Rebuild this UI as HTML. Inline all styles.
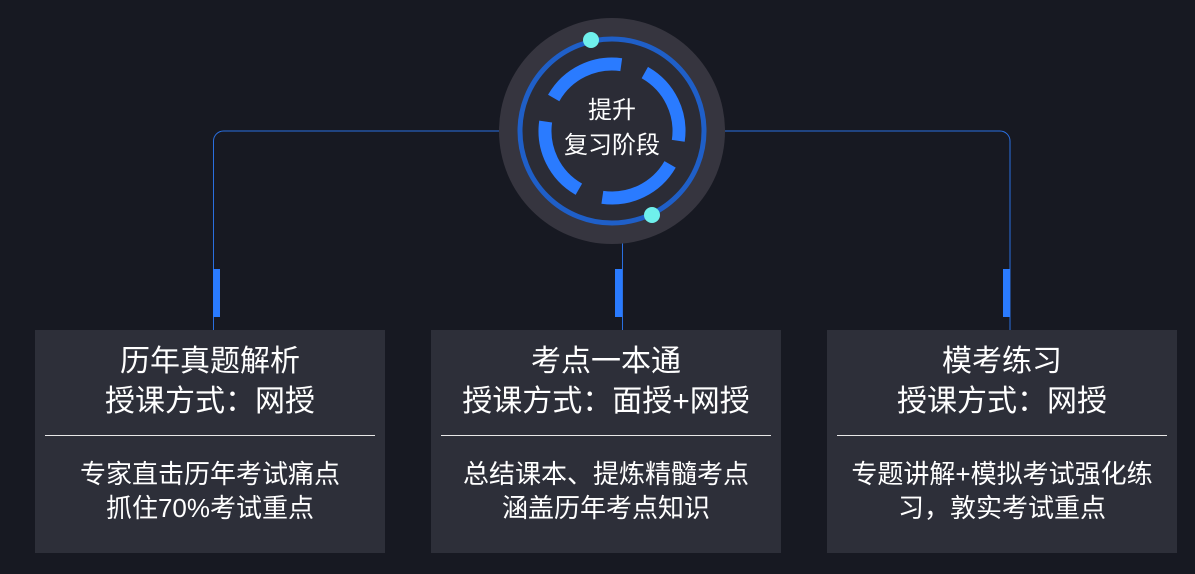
<!DOCTYPE html>
<html><head><meta charset="utf-8"><style>
body{margin:0;width:1195px;height:574px;background:#171922;position:relative;overflow:hidden;font-family:"Liberation Sans","Noto Sans CJK SC",sans-serif;color:#fff}
.box{position:absolute;top:330px;width:350px;height:223px;background:#2d2f39;text-align:center}
.t{position:absolute;top:12px;left:0;right:0;font-size:30px;line-height:40px}
.hr{position:absolute;top:105px;left:10px;right:10px;height:1px;background:#e8e8e8}
.d{position:absolute;top:127px;left:0;right:0;font-size:26px;line-height:34px}
.bar{position:absolute;top:269px;width:7px;height:48px;background:#2a7bff}
</style></head><body>
<svg width="1195" height="574" style="position:absolute;left:0;top:0">
<path d="M213.5 330 V141 a10 10 0 0 1 10 -10 H1000 a10 10 0 0 1 10 10 V330" fill="none" stroke="#2a6fe0" stroke-width="1"/>
<line x1="622.5" y1="240" x2="622.5" y2="330" stroke="#2a6fe0"/>
<circle cx="612" cy="131" r="113" fill="#36353f"/>
<circle cx="612" cy="131" r="92" fill="#2b2c36" stroke="#1f5fc8" stroke-width="5"/>
<circle cx="612" cy="131" r="67" fill="none" stroke="#2a7bff" stroke-width="13" stroke-dasharray="80 25" transform="rotate(-60 612 131)"/>
<circle cx="591" cy="40" r="8" fill="#6ff0ec"/>
<circle cx="652" cy="215" r="8" fill="#6ff0ec"/>
<text x="612" y="118" text-anchor="middle" font-size="24" fill="#fff" font-family="Liberation Sans,Noto Sans CJK SC,sans-serif">提升</text>
<text x="612" y="153" text-anchor="middle" font-size="24" fill="#fff" font-family="Liberation Sans,Noto Sans CJK SC,sans-serif">复习阶段</text>
</svg>
<div class="bar" style="left:213px"></div>
<div class="bar" style="left:615px"></div>
<div class="bar" style="left:1003px"></div>
<div class="box" style="left:35px"><div class="t">历年真题解析<br>授课方式：网授</div><div class="hr"></div><div class="d">专家直击历年考试痛点<br>抓住70%考试重点</div></div>
<div class="box" style="left:431px"><div class="t">考点一本通<br>授课方式：面授+网授</div><div class="hr"></div><div class="d">总结课本、提炼精髓考点<br>涵盖历年考点知识</div></div>
<div class="box" style="left:827px"><div class="t">模考练习<br>授课方式：网授</div><div class="hr"></div><div class="d">专题讲解+模拟考试强化练<br>习，敦实考试重点</div></div>
</body></html>
